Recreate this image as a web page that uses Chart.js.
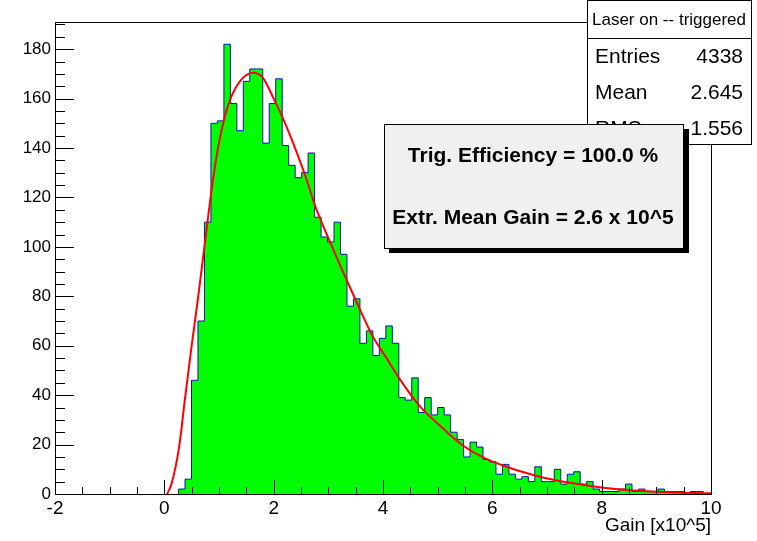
<!DOCTYPE html>
<html>
<head>
<meta charset="utf-8">
<script src="https://cdn.jsdelivr.net/npm/chart.js@4.4.1/dist/chart.umd.min.js"></script>
<style>
  body { margin: 0; background: #fff; }
  #wrap { width: 757px; height: 541px; }
</style>
</head>
<body>
<div id="wrap"><canvas id="gainHist" width="757" height="541"></canvas></div>
<script>
// histogram binning (x in units of 10^5)
var binLow = 0.26;
var binWidth = 0.1185;
var counts = [2,6,46,70,110,150,151,182,158,147,
              167,172,172,142,158,168,141,133,128,130,
              138,112,104,102,110,97,76,79,61,66,
              56,63,68,61,39,38,47,33,39,32,
              35,32,25,22,15,21,19,14,13,8,
              12,8,6,7,5,11,5,5,10,4,
              8,9,4,5,2,1,1,1,2,4,
              1,2,1,1,2,1,1,1,0,1,1,0];

// fit curve
var fitX = [0.05,0.13,0.27,0.38,0.5,0.62,0.75,0.87,0.99,1.11,1.23,1.42,1.62,1.8,2.0,2.18,2.4,2.58,2.76,3.01,3.25,3.5,3.8,4.05,4.3,4.66,5.1,5.46,5.82,6.31,6.8,6.96,7.6,8.2,9.1,10];
var fitY = [0,4,19,39,60,80,103,124,141,153,161,168,170.5,168.5,160,151.5,139.5,128.7,116.5,103,90.8,78.5,64.3,55.5,46.7,35.9,26.5,19.6,14.9,10.6,7.4,6.5,3.9,2.1,0.8,0.3];

var xTicks = [-2,0,2,4,6,8,10];
var yTicks = [0,20,40,60,80,100,120,140,160,180];

var statTitle = "Laser on -- triggered";
var statRows = [["Entries","4338"],["Mean","2.645"],["RMS","1.556"]];
var infoLines = ["Trig. Efficiency = 100.0 %", "Extr. Mean Gain = 2.6 x 10^5"];

var histPts = [{x: binLow, y: 0}];
for (var i = 0; i < counts.length; i++) {
  histPts.push({x: binLow + i * binWidth, y: counts[i]});
}
histPts.push({x: binLow + counts.length * binWidth, y: 0});

var fitPts = fitX.map(function (x, i) { return {x: x, y: fitY[i]}; });

var FONT = "'Liberation Sans', Arial, Helvetica, sans-serif";

// frame, inward ticks, stats box and text box
var rootFrame = {
  id: 'rootFrame',
  afterDatasetsDraw: function (chart) {
    var ctx = chart.ctx, a = chart.chartArea;
    var xs = chart.scales.x, ys = chart.scales.y;
    ctx.save();
    ctx.strokeStyle = '#000';
    ctx.lineWidth = 1;
    ctx.beginPath();
    for (var v = -2; v <= 10.001; v += 0.5) {
      var px = Math.round(xs.getPixelForValue(v)) + 0.5;
      var len = (Math.abs(v % 2) < 1e-6) ? 14 : 7;
      ctx.moveTo(px, a.bottom);
      ctx.lineTo(px, a.bottom - len);
    }
    for (var w = 0; w <= 190; w += 5) {
      var py = Math.round(ys.getPixelForValue(w)) + 0.5;
      var l2 = (w % 20 === 0) ? 19 : 10;
      ctx.moveTo(a.left, py);
      ctx.lineTo(a.left + l2, py);
    }
    ctx.stroke();
    ctx.strokeRect(Math.round(a.left) + 0.5, Math.round(a.top) + 0.5,
                   Math.round(a.right - a.left), Math.round(a.bottom - a.top));
    ctx.restore();
  },
  afterDraw: function (chart) {
    var ctx = chart.ctx;
    ctx.save();
    // stats box
    ctx.fillStyle = '#fff';
    ctx.fillRect(587, 0, 164, 144);
    ctx.strokeStyle = '#000';
    ctx.lineWidth = 1;
    ctx.strokeRect(587.5, 0.5, 164, 144);
    ctx.beginPath();
    ctx.moveTo(587, 38.5);
    ctx.lineTo(751, 38.5);
    ctx.stroke();
    ctx.fillStyle = '#000';
    ctx.textBaseline = 'middle';
    ctx.font = '17px ' + FONT;
    ctx.textAlign = 'center';
    ctx.fillText(statTitle, 669, 20);
    ctx.font = '21px ' + FONT;
    for (var r = 0; r < statRows.length; r++) {
      var yy = 57 + r * 36;
      ctx.textAlign = 'left';
      ctx.fillText(statRows[r][0], 595, yy);
      ctx.textAlign = 'right';
      ctx.fillText(statRows[r][1], 743, yy);
    }
    // text box with shadow
    ctx.fillStyle = '#000';
    ctx.fillRect(389, 129, 300, 124);
    ctx.fillStyle = '#f0f0f0';
    ctx.fillRect(384, 124, 299, 124);
    ctx.strokeStyle = '#000';
    ctx.strokeRect(384.5, 124.5, 299, 124);
    ctx.fillStyle = '#000';
    ctx.font = 'bold 21px ' + FONT;
    ctx.textAlign = 'center';
    ctx.fillText(infoLines[0], 533, 156);
    ctx.fillText(infoLines[1], 533, 218);
    ctx.restore();
  }
};

var ctx = document.getElementById("gainHist").getContext('2d');
var gainChart = new Chart(ctx, {
  type: 'line',
  data: {
    datasets: [{
      label: 'fit',
      data: fitPts,
      borderColor: '#ff0000',
      borderWidth: 2,
      pointRadius: 0,
      fill: false,
      cubicInterpolationMode: 'monotone',
      order: 0
    }, {
      label: 'Laser on -- triggered',
      data: histPts,
      stepped: true,
      borderColor: '#1010b0',
      borderWidth: 1,
      backgroundColor: '#00ff00',
      fill: 'origin',
      pointRadius: 0,
      order: 1
    }]
  },
  options: {
    responsive: false,
    animation: false,
    layout: { padding: { top: 22, right: 46, left: 0, bottom: 0 } },
    plugins: { legend: { display: false }, tooltip: { enabled: false } },
    scales: {
      x: {
        type: 'linear',
        min: -2, max: 10,
        grid: { display: false, drawTicks: false },
        border: { display: false },
        afterBuildTicks: function (s) { s.ticks = xTicks.map(function (v) { return {value: v}; }); },
        afterFit: function (s) { s.height = 47; },
        ticks: { color: '#000', padding: 3, maxRotation: 0, autoSkip: false, font: { size: 19, family: FONT } },
        title: {
          display: true, text: 'Gain [x10^5]', align: 'end', color: '#000',
          font: { size: 19, family: FONT }, padding: { top: 0, bottom: 4 }
        }
      },
      y: {
        min: 0, max: 191,
        grid: { display: false, drawTicks: false },
        border: { display: false },
        afterBuildTicks: function (s) { s.ticks = yTicks.map(function (v) { return {value: v}; }); },
        afterFit: function (s) { s.width = 55; },
        ticks: { color: '#000', padding: 4, autoSkip: false, font: { size: 17, family: FONT } }
      }
    }
  },
  plugins: [rootFrame]
});
</script>
</body>
</html>
